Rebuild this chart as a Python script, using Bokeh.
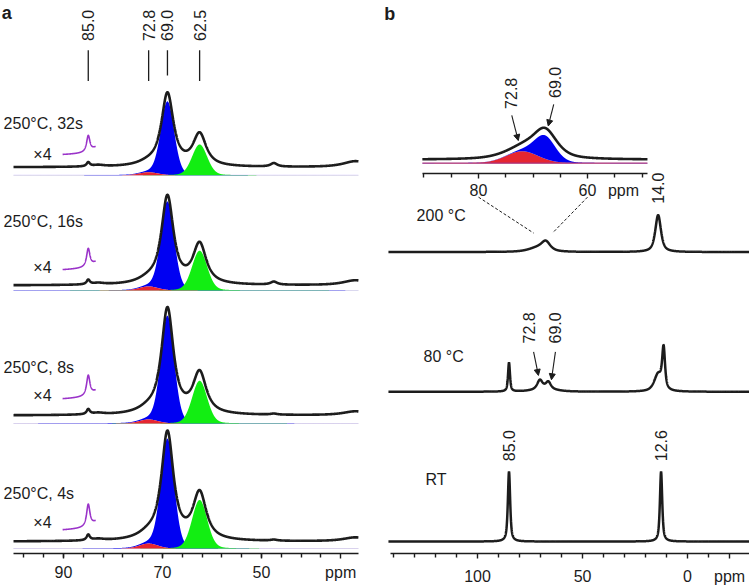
import numpy as np
from bokeh.plotting import figure
from bokeh.layouts import row
from bokeh.models import Range1d, FixedTicker, Arrow, NormalHead, LinearAxis
from bokeh.embed import file_html
from bokeh.resources import INLINE
from bokeh.core.properties import value

# ======================= DATA =======================
# ---- panel a: 250 degC series (13C shift, ppm) ----
a_samples = ["250°C, 32s", "250°C, 16s", "250°C, 8s", "250°C, 4s"]
a_mark_ppm = [85.0, 72.8, 69.0, 62.5]
a_mark_text = ["85.0", "72.8", "69.0", "62.5"]
a_ticks = [90, 70, 50]
a_minor = [98, 94, 90, 86, 82, 78, 74, 70, 66, 62, 58, 54, 50, 46, 42, 38]
a_unit_tick = 34
# deconvoluted components (red 72.8, blue 69.0, green 62.5)
a_fit_ppm = [72.8, 69.0, 62.5]
a_fit_hwhm = [2.2, 1.6, 1.8]
a_red = [3, 4, 4, 5]
a_blue = [74, 89, 108, 110]
a_green = [31, 40, 43, 49]
# experimental spectra (black)
a_exp_ppm = [85.0, 83.0, 72.8, 69.0, 62.5, 47.5, 31.0]
a_exp_hwhm = [0.4, 1.5, 2.5, 1.45, 1.6, 0.8, 3.0]
a_exp_32s = [4.0, 1.5, 3, 73, 32, 3.5, 6]
a_exp_16s = [4.5, 1.5, 4, 88, 40, 3.0, 5]
a_exp_8s = [5.0, 1.5, 4, 106, 41, 1.0, 4]
a_exp_4s = [5.5, 1.5, 5, 108, 47, 1.0, 4]
a_zoom_factor = 4
a_zoom_ppm = [90.2, 83.5]

# ---- panel b: temperature series ----
b_samples = ["200 °C", "80 °C", "RT"]
b_ticks = [100, 50, 0]
b_minor = [140, 130, 120, 110, 90, 80, 70, 60, 40, 30, 20, 10, -10]
b_unit_tick = -20
b_200_ppm = [71.5, 67.5, 14.0]
b_200_h = [4, 9, 37]
b_200_hwhm = [5.0, 2.5, 1.6]
b_80_ppm = [85.0, 70.3, 66.3, 68.0, 14.0, 11.4]
b_80_h = [29, 9, 7, 3, 17, 40]
b_80_hwhm = [0.55, 1.5, 1.4, 6.0, 2.2, 0.8]
b_rt_ppm = [85.0, 12.6]
b_rt_h = [70, 70]
b_rt_hwhm = [0.65, 0.65]
b_80_labels = ["72.8", "69.0"]
b_rt_labels = ["85.0", "12.6"]
b_200_label = "14.0"
# inset (200 degC, 90-49 ppm)
inset_ppm = [72.0, 67.8]
inset_text = ["72.8", "69.0"]
inset_fit_h = [12, 23.5]
inset_fit_hwhm = [3.5, 2.3]
inset_exp_h = [11, 27]
inset_exp_hwhm = [3.8, 2.6]
inset_ticks = [80, 60]
inset_minor = [90, 85, 75, 70, 65, 55, 50]
inset_bounds = [49, 90.3]

# ======================= STYLE / LAYOUT =======================
FONT = "Liberation Sans"
BLUE, GREEN, RED, PURPLE = "#0000f2", "#12ee12", "#e62631", "#9a33c9"
BLACK = "#1c1c1c"


def pv(x, centers, heights, hwhms, eta):
    y = np.zeros_like(x)
    for c, h, w in zip(centers, heights, hwhms):
        d = (x - c) / w
        y = y + h * (eta / (1 + d * d) + (1 - eta) * np.exp(-np.log(2) * d * d))
    return y


def style_axis(ax, ticks, minor, tin=0, tout=5, label_size="16px", standoff=2):
    ax.ticker = FixedTicker(ticks=ticks, minor_ticks=minor)
    ax.axis_line_width = 1.5
    ax.axis_line_color = BLACK
    ax.major_tick_line_width = 1.4
    ax.minor_tick_line_width = 1.4
    ax.major_tick_line_color = BLACK
    ax.minor_tick_line_color = BLACK
    ax.major_tick_out = tout
    ax.major_tick_in = tin
    ax.minor_tick_out = max(tout - 1, 0)
    ax.minor_tick_in = max(tin - 1, 0)
    ax.major_label_text_font = FONT
    ax.major_label_text_font_size = label_size
    ax.major_label_text_color = BLACK
    ax.major_label_standoff = standoff


def txt(p, x, y, text, angle=0.0, align="center", baseline="middle", size="16px",
        style="normal", x_range_name="default"):
    p.text(x=x, y=y, text=text, angle=angle, text_align=align, text_baseline=baseline,
           text_font=value(FONT), text_font_size=value(size), text_font_style=style,
           text_color=BLACK, x_range_name=x_range_name)


# ---------------- panel a ----------------
A_BOUNDS = (30.4, 100.1)
A_X = (102.73, 25.35)
A_Y = (3, 560)
A_BASE = [384, 268, 134, 8]
A_OFF = [8, 5, 8, 7]
A_NAME_DY = [44, 64, 48, 48]
A_X4_DY = [13, 18, 20, 19]
A_ZOOM_DY = [13, 16, 17, 12]

pa = figure(width=383, height=587, x_range=Range1d(*A_X), y_range=Range1d(*A_Y),
            output_backend="svg", toolbar_location=None, y_axis_location=None,
            min_border_left=0, min_border_right=0, min_border_top=0, min_border_bottom=30,
            outline_line_color=None)
pa.grid.visible = False
ax_a = pa.xaxis[0]
style_axis(ax_a, a_ticks + [a_unit_tick], a_minor, standoff=5)
ax_a.bounds = A_BOUNDS
ax_a.major_label_overrides = {a_unit_tick: "ppm"}

xa = np.arange(A_BOUNDS[1], A_BOUNDS[0], -0.02)
a_exp = [a_exp_32s, a_exp_16s, a_exp_8s, a_exp_4s]
top_exp = None
for i in range(4):
    base = A_BASE[i]
    red = pv(xa, [a_fit_ppm[0]], [a_red[i]], [a_fit_hwhm[0]], 0.15)
    blue = pv(xa, [a_fit_ppm[1]], [a_blue[i]], [a_fit_hwhm[1]], 0.15)
    green = pv(xa, [a_fit_ppm[2]], [a_green[i]], [a_fit_hwhm[2]], 0.15)
    pa.line(xa, np.full_like(xa, base), line_color="#c4bde3", line_width=1)
    pa.varea(x=xa, y1=base + red, y2=base + red + blue, fill_color=BLUE)
    pa.varea(x=xa, y1=np.full_like(xa, base), y2=base + green, fill_color=GREEN)
    pa.varea(x=xa, y1=np.full_like(xa, base), y2=base + red, fill_color=RED)
    b0 = base + A_OFF[i]
    exp = b0 + pv(xa, a_exp_ppm, a_exp[i], a_exp_hwhm, 0.9)
    pa.line(xa, exp, line_color=BLACK, line_width=2.6)
    if i == 0:
        top_exp = exp
    m = (xa <= a_zoom_ppm[0]) & (xa >= a_zoom_ppm[1])
    yz = exp[m]
    pa.line(xa[m], b0 + A_ZOOM_DY[i] + a_zoom_factor * (yz - yz[0]),
            line_color=PURPLE, line_width=1.6)
    txt(pa, [102.1], [b0 + A_NAME_DY[i]], [a_samples[i]], align="left")
    txt(pa, [96.1], [b0 + A_X4_DY[i]], ["×" + str(a_zoom_factor)], align="left")

# marker labels + lines
txt(pa, a_mark_ppm, [535] * 4, a_mark_text, angle=np.pi / 2)
bottoms = []
for p_ in a_mark_ppm:
    yv = np.interp(p_, xa[::-1], top_exp[::-1])
    bottoms.append(max(479, yv + 17))
pa.segment(x0=a_mark_ppm, y0=[510] * 4, x1=a_mark_ppm, y1=bottoms,
           line_color=BLACK, line_width=1.3)
txt(pa, [102.5], [557], ["a"], align="left", baseline="top", size="18px", style="bold")

# ---------------- panel b (main spectra + inset in one frame) ----------------
B_X = (144.76, -29.5)
B_BOUNDS = (-29.5, 141.4)
B_Y = (3, 557)
INSET_X = (97.43, 30.28)
INSET_AXIS_Y = 384
INSET_FIT_BASE, INSET_EXP_BASE = 394, 397.5
B_BASE = [305, 165, 15]
B_NAME_X = [129, 125.7, 124.8]
B_NAME_DY = [37, 35, 62]
RW = 366


def inset_to_main(p):
    frac = (INSET_X[0] - p) / (INSET_X[0] - INSET_X[1])
    return B_X[0] - frac * (B_X[0] - B_X[1])


pb = figure(width=RW, height=587, x_range=Range1d(*B_X), y_range=Range1d(*B_Y),
            output_backend="svg", toolbar_location=None, y_axis_location=None,
            min_border_left=0, min_border_right=0, min_border_top=0, min_border_bottom=33,
            outline_line_color=None)
pb.grid.visible = False
pb.extra_x_ranges = {"inset": Range1d(*INSET_X)}
ax_b = pb.xaxis[0]
style_axis(ax_b, b_ticks + [b_unit_tick], b_minor, standoff=9)
ax_b.bounds = B_BOUNDS
ax_b.major_label_overrides = {b_unit_tick: "ppm"}

ax_i = LinearAxis(x_range_name="inset", fixed_location=INSET_AXIS_Y)
style_axis(ax_i, inset_ticks, inset_minor, tin=5, tout=0, label_size="1px", standoff=0)
ax_i.major_label_text_alpha = 0
ax_i.bounds = tuple(inset_bounds)
pb.add_layout(ax_i, "above")

# inset spectra
xi = np.arange(inset_bounds[1], inset_bounds[0] - 0.01, -0.02)
r_i = pv(xi, [inset_ppm[0]], [inset_fit_h[0]], [inset_fit_hwhm[0]], 0.15)
b_i = pv(xi, [inset_ppm[1]], [inset_fit_h[1]], [inset_fit_hwhm[1]], 0.15)
pb.varea(x=xi, y1=np.full_like(xi, INSET_FIT_BASE), y2=INSET_FIT_BASE + r_i, fill_color=RED,
         x_range_name="inset")
pb.varea(x=xi, y1=INSET_FIT_BASE + r_i, y2=INSET_FIT_BASE + r_i + b_i, fill_color=BLUE,
         x_range_name="inset")
pb.line(xi, np.full_like(xi, INSET_FIT_BASE), line_color="#a8327c", line_width=1.2,
        x_range_name="inset")
e_i = INSET_EXP_BASE + pv(xi, inset_ppm, inset_exp_h, inset_exp_hwhm, 0.6)
pb.line(xi, e_i, line_color=BLACK, line_width=2.6, x_range_name="inset")

# inset tick labels and unit
txt(pb, inset_ticks, [INSET_AXIS_Y - 17] * len(inset_ticks), [str(t) for t in inset_ticks],
    x_range_name="inset")
txt(pb, [53.4], [INSET_AXIS_Y - 17], ["ppm"], x_range_name="inset")

# inset peak labels + arrows
lab_x = [inset_ppm[0] + 2.1, inset_ppm[1] - 1.9]
lab_y = [INSET_FIT_BASE + 70, INSET_FIT_BASE + 81]
txt(pb, lab_x, lab_y, inset_text, angle=np.pi / 2, x_range_name="inset")
arr_start = [inset_ppm[0] + 1.9, inset_ppm[1] - 1.6]
arr_end = [inset_ppm[0] + 0.7, inset_ppm[1] - 0.6]
for xs, xe, ly in zip(arr_start, arr_end, lab_y):
    ye = np.interp(xe, xi[::-1], e_i[::-1]) + 4
    pb.add_layout(Arrow(end=NormalHead(size=6, fill_color=BLACK, line_color=BLACK, line_width=1),
                        x_start=inset_to_main(xs), y_start=ly - 22,
                        x_end=inset_to_main(xe), y_end=ye,
                        line_color=BLACK, line_width=1.1))

# main spectra
xb = np.arange(142.4, -29.6, -0.05)
curves = [(b_200_ppm, b_200_h, b_200_hwhm), (b_80_ppm, b_80_h, b_80_hwhm),
          (b_rt_ppm, b_rt_h, b_rt_hwhm)]
ys = []
for i, (pp, hh, ww) in enumerate(curves):
    y = B_BASE[i] + pv(xb, pp, hh, ww, 0.7)
    ys.append(y)
    pb.line(xb, y, line_color=BLACK, line_width=2.5)
    txt(pb, [B_NAME_X[i]], [B_BASE[i] + B_NAME_DY[i]], [b_samples[i]], align="left")

# RT labels
rt_top = [B_BASE[2] + h for h in b_rt_h]
txt(pb, b_rt_ppm, [t + 26 for t in rt_top], b_rt_labels, angle=np.pi / 2)

# 200 degC label
t200 = B_BASE[0] + b_200_h[2]
txt(pb, [b_200_ppm[2]], [t200 + 27], [b_200_label], angle=np.pi / 2)

# 80 degC labels with arrows
pk = [b_80_ppm[1], b_80_ppm[2]]
lx = [pk[0] + 5.0, pk[1] - 3.4]
ly80 = B_BASE[1] + 64
txt(pb, lx, [ly80] * 2, b_80_labels, angle=np.pi / 2)
a_st = [pk[0] + 3.0, pk[1] - 3.4]
a_en = [pk[0] + 0.7, pk[1] - 1.5]
for xs, xe in zip(a_st, a_en):
    ye = np.interp(xe, xb[::-1], ys[1][::-1]) + 6
    pb.add_layout(Arrow(end=NormalHead(size=6, fill_color=BLACK, line_color=BLACK, line_width=1),
                        x_start=xs, y_start=ly80 - 24, x_end=xe, y_end=ye,
                        line_color=BLACK, line_width=1.1))

# dashed connectors from inset axis to the 200 degC hump
mh = (xb < 78) & (xb > 60)
hump_top = ys[0][mh].max()
hc = 68.8
x0s = [inset_to_main(inset_ticks[0]), inset_to_main(inset_ticks[1])]
pb.segment(x0=x0s, y0=[INSET_AXIS_Y - 24] * 2, x1=[hc + 4.5, hc - 4.5], y1=[hump_top + 7.5] * 2,
           line_color=BLACK, line_width=1, line_dash="3 2")

txt(pb, [144.4], [553], ["b"], align="left", baseline="top", size="18px", style="bold")

layout = row(pa, pb)
open("out.html", "w").write(file_html(layout, INLINE, title="NMR"))
